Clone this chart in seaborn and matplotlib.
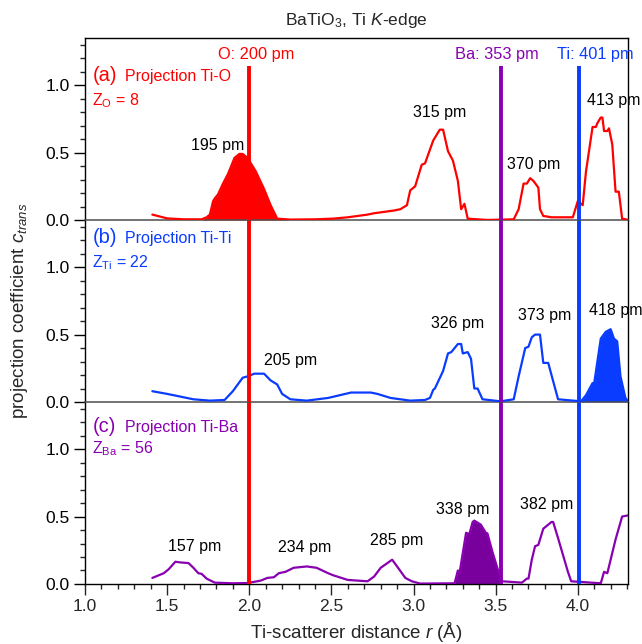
import numpy as np
import pandas as pd
import matplotlib
matplotlib.use("Agg")
import matplotlib.pyplot as plt
from matplotlib.ticker import MultipleLocator, FormatStrFormatter
import seaborn as sns

r_ti_o = [1.41, 1.50, 1.60, 1.71, 1.74, 1.76, 1.78, 1.79, 1.81, 1.84, 1.87, 1.91, 1.94, 1.96,
          1.99, 2.04, 2.09, 2.13, 2.17, 2.25, 2.40, 2.51, 2.60, 2.72, 2.76, 2.82, 2.88, 2.92,
          2.96, 2.98, 3.01, 3.05, 3.07, 3.12, 3.16, 3.18, 3.21, 3.24, 3.27, 3.29, 3.31, 3.33,
          3.45, 3.61, 3.64, 3.67, 3.69, 3.71, 3.73, 3.76, 3.77, 3.79, 3.84, 3.97, 4.00, 4.03,
          4.05, 4.09, 4.11, 4.12, 4.14, 4.15, 4.16, 4.18, 4.19, 4.21, 4.23, 4.25, 4.27, 4.31]
c_ti_o = [0.04, 0.012, 0.005, 0.005, 0.02, 0.04, 0.14, 0.16, 0.19, 0.27, 0.34, 0.46, 0.49, 0.49,
          0.46, 0.36, 0.23, 0.11, 0.01, 0.003, 0.005, 0.01, 0.02, 0.04, 0.05, 0.06, 0.07, 0.08,
          0.11, 0.22, 0.25, 0.41, 0.42, 0.59, 0.67, 0.67, 0.51, 0.44, 0.29, 0.08, 0.12, 0.01,
          0.0, 0.005, 0.08, 0.27, 0.27, 0.31, 0.29, 0.24, 0.08, 0.03, 0.02, 0.02, 0.14, 0.11,
          0.36, 0.69, 0.69, 0.72, 0.76, 0.76, 0.66, 0.66, 0.68, 0.56, 0.21, 0.21, 0.01, 0.0]

r_ti_ti = [1.41, 1.50, 1.66, 1.76, 1.85, 1.90, 1.96, 1.99, 2.03, 2.09, 2.13, 2.17, 2.20, 2.25,
           2.35, 2.48, 2.62, 2.74, 2.78, 2.86, 2.98, 3.07, 3.10, 3.12, 3.13, 3.18, 3.21, 3.23,
           3.27, 3.29, 3.30, 3.33, 3.35, 3.37, 3.39, 3.42, 3.53, 3.61, 3.64, 3.68, 3.70, 3.72,
           3.74, 3.77, 3.79, 3.82, 3.84, 3.88, 4.02, 4.05, 4.09, 4.10, 4.14, 4.17, 4.20, 4.22,
           4.24, 4.26, 4.29, 4.31]
c_ti_ti = [0.08, 0.06, 0.02, 0.01, 0.015, 0.08, 0.18, 0.19, 0.21, 0.21, 0.16, 0.13, 0.06, 0.02,
           0.01, 0.03, 0.07, 0.07, 0.06, 0.03, 0.01, 0.015, 0.03, 0.09, 0.10, 0.23, 0.36, 0.37,
           0.43, 0.43, 0.36, 0.37, 0.32, 0.10, 0.10, 0.02, 0.005, 0.02, 0.19, 0.40, 0.41, 0.48,
           0.50, 0.50, 0.29, 0.29, 0.20, 0.02, 0.005, 0.05, 0.14, 0.14, 0.47, 0.52, 0.54, 0.47,
           0.45, 0.19, 0.03, 0.0]

r_ti_ba = [1.41, 1.48, 1.51, 1.55, 1.58, 1.63, 1.66, 1.69, 1.71, 1.74, 1.79, 1.90, 1.99, 2.07,
           2.11, 2.15, 2.18, 2.22, 2.27, 2.35, 2.41, 2.48, 2.51, 2.60, 2.72, 2.76, 2.80, 2.87,
           2.90, 2.95, 2.99, 3.04, 3.25, 3.27, 3.28, 3.30, 3.32, 3.34, 3.36, 3.37, 3.41, 3.44,
           3.45, 3.48, 3.52, 3.54, 3.66, 3.69, 3.70, 3.72, 3.74, 3.76, 3.79, 3.84, 3.85, 3.88,
           3.94, 3.96, 4.14, 4.16, 4.18, 4.20, 4.23, 4.27, 4.31]
c_ti_ba = [0.045, 0.08, 0.11, 0.165, 0.16, 0.155, 0.12, 0.08, 0.075, 0.04, 0.01, 0.005, 0.007, 0.025,
           0.045, 0.05, 0.08, 0.09, 0.12, 0.13, 0.12, 0.08, 0.065, 0.03, 0.02, 0.055, 0.12, 0.18,
           0.13, 0.045, 0.02, 0.003, 0.005, 0.10, 0.08, 0.23, 0.38, 0.37, 0.46, 0.47, 0.44, 0.38,
           0.375, 0.24, 0.08, 0.02, 0.01, 0.04, 0.04, 0.18, 0.28, 0.29, 0.41, 0.46, 0.46, 0.34,
           0.09, 0.02, 0.005, 0.09, 0.08, 0.18, 0.33, 0.50, 0.51]

# peak labels
peaks_o = ["195 pm", "315 pm", "370 pm", "413 pm"]
peaks_o_r = [1.81, 3.16, 3.73, 4.22]
peaks_o_c = [0.55, 0.80, 0.41, 0.89]
peaks_ti = ["205 pm", "326 pm", "373 pm", "418 pm"]
peaks_ti_r = [2.25, 3.27, 3.80, 4.23]
peaks_ti_c = [0.31, 0.58, 0.64, 0.68]
peaks_ba = ["157 pm", "234 pm", "285 pm", "338 pm", "382 pm"]
peaks_ba_r = [1.67, 2.34, 2.90, 3.30, 3.81]
peaks_ba_c = [0.28, 0.27, 0.32, 0.55, 0.59]

# reference distances (crystal structure)
ref_names = ["O", "Ba", "Ti"]
ref_r = [2.00, 3.53, 4.01]
ref_pm = [200, 353, 401]

# projection windows that are shaded
win_o = (1.72, 2.17)
win_ti = (4.02, 4.31)
win_ba = (3.25, 3.53)

RED = "#ff0000"
BLUE = "#0a3cff"
PURPLE = "#8800b0"
PURPLE_FILL = "#7a009e"

sns.set_theme(style="ticks")
plt.rcParams["font.family"] = ["Liberation Sans", "DejaVu Sans"]
plt.rcParams["mathtext.fontset"] = "custom"
plt.rcParams["mathtext.rm"] = "Liberation Sans"
plt.rcParams["mathtext.it"] = "Liberation Sans:italic"
plt.rcParams["mathtext.bf"] = "Liberation Sans:bold"
plt.rcParams["axes.linewidth"] = 1.0

fig, axes = plt.subplots(3, 1, figsize=(6.42, 6.44), dpi=100, sharex=True,
                         gridspec_kw={"hspace": 0})
fig.subplots_adjust(left=0.1324, right=0.978, top=0.941, bottom=0.0932)

panels = [
    dict(r=r_ti_o, c=c_ti_o, col=RED, fill=RED, win=win_o, tag="(a)", name="Projection Ti-O",
         z=r"Z$_\mathrm{O}$ = 8", tag_y=1.03, z_y=0.85,
         labels=peaks_o, lr=peaks_o_r, lc=peaks_o_c),
    dict(r=r_ti_ti, c=c_ti_ti, col=BLUE, fill=BLUE, win=win_ti, tag="(b)", name="Projection Ti-Ti",
         z=r"Z$_\mathrm{Ti}$ = 22", tag_y=1.18, z_y=1.00,
         labels=peaks_ti, lr=peaks_ti_r, lc=peaks_ti_c),
    dict(r=r_ti_ba, c=c_ti_ba, col=PURPLE, fill=PURPLE_FILL, win=win_ba, tag="(c)", name="Projection Ti-Ba",
         z=r"Z$_\mathrm{Ba}$ = 56", tag_y=1.13, z_y=0.97,
         labels=peaks_ba, lr=peaks_ba_r, lc=peaks_ba_c),
]
ref_cols = [RED, PURPLE, BLUE]

for i, (ax, p) in enumerate(zip(axes, panels)):
    # transparent background so the panel below does not hide the zero line above
    ax.set_facecolor("none")
    ax.set_zorder(3 - i)
    df = pd.DataFrame({"r": p["r"], "c": p["c"]})
    sns.lineplot(data=df, x="r", y="c", ax=ax, color=p["col"], lw=1.6,
                 estimator=None, sort=False, zorder=3)
    rr = np.array(p["r"])
    cc = np.array(p["c"])
    lo, hi = p["win"]
    ax.fill_between(rr, 0, cc, where=(rr >= lo) & (rr <= hi), color=p["fill"],
                    lw=0, interpolate=True, zorder=2)

    # reference lines crossing all panels
    for xr, col in zip(ref_r, ref_cols):
        ymax = 1.14 / 1.35 if i == 0 else 1.0
        ax.axvline(xr, ymin=0, ymax=ymax, color=col, lw=2.8, zorder=4,
                   solid_capstyle="butt")

    for txt, x, y in zip(p["labels"], p["lr"], p["lc"]):
        ax.text(x, y, txt, ha="center", va="center", fontsize=11.5, color="black",
                zorder=5, clip_on=False)

    ax.text(1.045, p["tag_y"], p["tag"], color=p["col"], fontsize=14.5, va="baseline", ha="left")
    ax.text(1.245, p["tag_y"], p["name"], color=p["col"], fontsize=11.5, va="baseline", ha="left")
    ax.text(1.045, p["z_y"], p["z"], color=p["col"], fontsize=11.5, va="baseline", ha="left")

    ax.set_xlim(1.0, 4.305)
    ax.set_ylim(0, 1.35)
    ax.set_xlabel("")
    ax.set_ylabel("")
    ax.yaxis.set_major_locator(MultipleLocator(0.5))
    ax.yaxis.set_minor_locator(MultipleLocator(0.1))
    ax.yaxis.set_major_formatter(FormatStrFormatter("%.1f"))
    ax.tick_params(axis="y", which="major", direction="out", length=8, width=1.0,
                   labelsize=12.5, pad=3, colors="black")
    ax.tick_params(axis="y", which="minor", direction="out", length=3.5, width=1.0)
    ax.tick_params(axis="y", right=False, which="both")

    for s in ["left", "right", "top", "bottom"]:
        ax.spines[s].set_visible(True)
        ax.spines[s].set_color("black")
        ax.spines[s].set_linewidth(1.0)
    if i > 0:
        ax.spines["top"].set_visible(False)
    if i < 2:
        ax.spines["bottom"].set_color("#4d4d4d")
        ax.spines["bottom"].set_linewidth(1.1)
        ax.tick_params(axis="x", which="both", bottom=False, top=False, labelbottom=False)

# reference labels above panel (a)
for name, xr, pm, col, xt in zip(ref_names, ref_r, ref_pm, ref_cols, [2.043, 3.506, 4.104]):
    axes[0].text(xt, 1.23, f"{name}: {pm} pm", color=col, fontsize=11.8,
                 ha="center", va="center")

axb = axes[2]
axb.xaxis.set_major_locator(MultipleLocator(0.5))
axb.xaxis.set_minor_locator(MultipleLocator(0.1))
axb.xaxis.set_major_formatter(FormatStrFormatter("%.1f"))
axb.tick_params(axis="x", which="major", direction="out", length=8, width=1.0,
                labelsize=12.5, pad=3, top=False)
axb.tick_params(axis="x", which="minor", direction="out", length=3.5, width=1.0, top=False)

fig.text(0.5545, 1 - 632 / 644, r"Ti-scatterer distance $r$ (Å)", ha="center", va="center",
         fontsize=13.5)
fig.text(0.031, 0.517, r"projection coefficient $c_{trans}$", ha="center", va="center",
         rotation=90, fontsize=13.5)
fig.text(0.5545, 1 - 21 / 644, r"BaTiO$_3$, Ti $K$-edge", ha="center", va="center",
         fontsize=12.5)

fig.savefig("out.png", dpi=100)
